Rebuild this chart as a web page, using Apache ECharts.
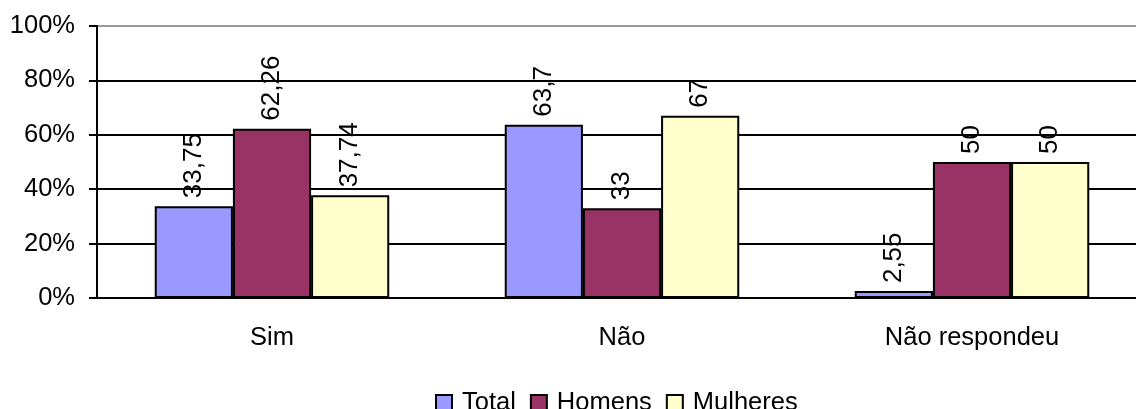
<!DOCTYPE html>
<html>
<head>
<meta charset="utf-8">
<script src="https://cdn.jsdelivr.net/npm/echarts@6/dist/echarts.min.js"></script>
<style>
  html, body { margin: 0; padding: 0; background: #fff; }
  #chart { width: 1136px; height: 409px; }
</style>
</head>
<body>
<div id="chart"></div>
<script>
let categories = ['Sim', 'Não', 'Não respondeu'];
let total = [33.75, 63.7, 2.55];
let homens = [62.26, 33, 50];
let mulheres = [37.74, 67, 50];
let seriesNames = ['Total', 'Homens', 'Mulheres'];
let colors = ['#9999FF', '#993366', '#FFFFCC'];

let myChart = echarts.init(document.getElementById('chart'));
const font = 'Liberation Sans, Arial, sans-serif';

function fmt(p) {
    return String(p.value).replace('.', ',');
}

function bar(name, data, color) {
    return {
        name: name,
        type: 'bar',
        data: data,
        barGap: '0%',
        barCategoryGap: '33%',
        itemStyle: { color: color, borderColor: '#000', borderWidth: 2 },
        label: {
            show: true,
            position: 'top',
            rotate: 90,
            align: 'left',
            verticalAlign: 'middle',
            distance: 8,
            formatter: fmt,
            color: '#000',
            fontSize: 26,
            fontFamily: font
        }
    };
}

var option = {
    animation: false,
    color: colors,
    grid: { left: 97, top: 26, height: 272, width: 1050, outerBoundsMode: 'none', containLabel: false },
    legend: {
        top: 390,
        left: 435,
        padding: 0,
        itemWidth: 16,
        itemHeight: 16,
        itemGap: 14,
        icon: 'rect',
        itemStyle: { borderColor: '#000', borderWidth: 2 },
        textStyle: { fontSize: 25.5, fontFamily: font, color: '#000', padding: [0, 0, 0, 5] },
        data: seriesNames
    },
    xAxis: {
        type: 'category',
        data: categories,
        axisLine: { lineStyle: { color: '#000', width: 2 } },
        axisTick: { length: 8, lineStyle: { color: '#000', width: 2 } },
        axisLabel: { margin: 27, fontSize: 25.5, fontFamily: font, color: '#000' }
    },
    yAxis: {
        type: 'value',
        min: 0,
        max: 100,
        interval: 20,
        axisLine: { show: true, lineStyle: { color: '#000', width: 2 } },
        axisTick: { show: true, length: 8, lineStyle: { color: '#000', width: 2 } },
        axisLabel: { margin: 22, formatter: '{value}%', fontSize: 25.5, fontFamily: font, color: '#000' },
        splitLine: { lineStyle: { color: ['#000', '#000', '#000', '#000', '#000', '#999'], width: 2 } }
    },
    series: [
        bar(seriesNames[0], total, colors[0]),
        bar(seriesNames[1], homens, colors[1]),
        bar(seriesNames[2], mulheres, colors[2])
    ]
};

option && myChart.setOption(option, true);
</script>
</body>
</html>
